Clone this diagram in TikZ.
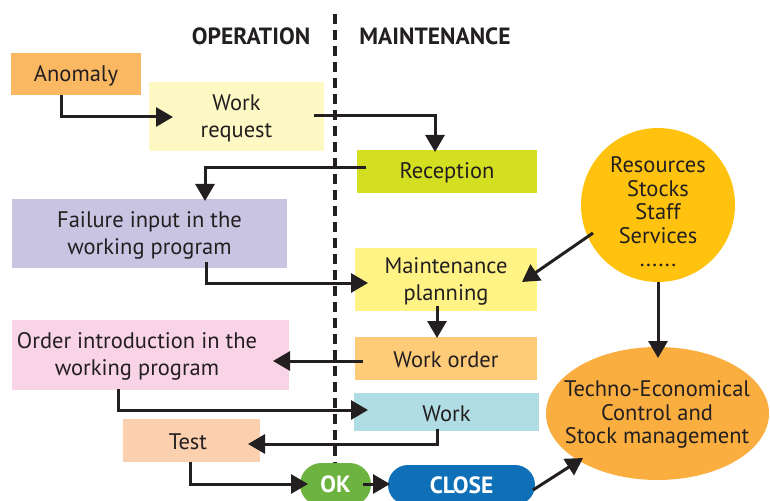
\documentclass[tikz,border=0pt]{standalone}
\usepackage{fontspec}
\setmainfont{PT Sans}
\usetikzlibrary{arrows.meta,shapes.geometric,shapes.misc}
\definecolor{cAnom}{HTML}{FBB862}
\definecolor{cReq}{HTML}{FEF9C4}
\definecolor{cRec}{HTML}{D5DF22}
\definecolor{cFail}{HTML}{C9C4E2}
\definecolor{cPlan}{HTML}{FFF385}
\definecolor{cRes}{HTML}{FFC20E}
\definecolor{cWO}{HTML}{FECB78}
\definecolor{cOrd}{HTML}{F9D3E6}
\definecolor{cWork}{HTML}{B0DDE3}
\definecolor{cTest}{HTML}{FAD0AF}
\definecolor{cOK}{HTML}{6CB33F}
\definecolor{cClose}{HTML}{0F6FB7}
\definecolor{cTech}{HTML}{FAAE40}
\definecolor{ink}{HTML}{231F20}
\tikzset{
  box/.style={rectangle, draw=none, inner sep=0pt, align=center, text=ink,
    font=\fontsize{22.5bp}{27bp}\selectfont},
  pill/.style={rounded rectangle, draw=none, inner sep=0pt, text=white,
    font=\fontsize{23.5bp}{27bp}\selectfont\bfseries},
  head/.style={font=\fontsize{23.5bp}{27bp}\selectfont\bfseries, text=ink, inner sep=0pt},
  conn/.style={line width=3bp, draw=ink, -{Triangle[length=17bp,width=19bp]}},
}
\begin{document}
\begin{tikzpicture}[x=1bp,y=-1bp]
\useasboundingbox (0,0) rectangle (770,501);
\clip (0,0) rectangle (770,501);
% divider
\draw[ink, line width=4bp, dash pattern=on 10bp off 6bp] (335,14) -- (335,470);
\node[head] (hop) at (251,36) {OPERATION};
\node[head] (hmt) at (435,36) {MAINTENANCE};
% boxes
\node[box, fill=cAnom, minimum width=130bp, minimum height=42bp] (anom) at (76,74) {};
\node[box] (anomtxt) at (76,75.5) {Anomaly};
\node[box, fill=cReq, minimum width=175bp, minimum height=69bp] (req) at (236.5,116.5) {};
\node[box] (reqtxt) at (236.5,118) {Work\\request};
\node[box, fill=cRec, minimum width=180bp, minimum height=43bp] (rec) at (447,171.5) {};
\node[box] (rectxt) at (447,173) {Reception};
\node[box, fill=cFail, minimum width=275bp, minimum height=69bp] (fail) at (149.5,233.5) {};
\node[box] (failtxt) at (149.5,235) {Failure input in the\\working program};
\node[box, fill=cPlan, minimum width=182bp, minimum height=62bp] (plan) at (446,279.5) {};
\node[box] (plantxt) at (446,281) {Maintenance\\planning};
\node[box, circle, fill=cRes, minimum size=154bp] (res) at (658,205) {};
\node[box, font=\fontsize{22.5bp}{23.5bp}\selectfont] (restxt) at (658,212) {Resources\\Stocks\\Staff\\Services\\......};
\node[box, fill=cWO, minimum width=182bp, minimum height=43bp] (wo) at (446,358.5) {};
\node[box] (wotxt) at (446,360) {Work order};
\node[box, fill=cOrd, minimum width=277bp, minimum height=70bp] (ord) at (150.5,354.5) {};
\node[box] (ordtxt) at (137,356) {Order introduction in the\\working program};
\node[box, fill=cWork, minimum width=185bp, minimum height=38bp] (work) at (446.5,412) {};
\node[box] (worktxt) at (446.5,413.5) {Work};
\node[box, fill=cTest, minimum width=137bp, minimum height=43bp] (test) at (191.5,440.5) {};
\node[box] (testtxt) at (188,442) {Test};
\node[box, ellipse, fill=cTech, minimum width=223bp, minimum height=133bp] (tech) at (657.5,413.5) {};
\node[box, font=\fontsize{22.5bp}{23.5bp}\selectfont] (techtxt) at (657,414.5) {Techno-Economical\\Control and\\Stock management};
\node[pill, fill=cOK, minimum width=71bp, minimum height=43bp] (ok) at (335.5,484.5) {OK};
\node[pill, fill=cClose, minimum width=147bp, minimum height=40bp] (close) at (461.5,485) {CLOSE};
% connectors
\coordinate (a1) at (61,95);
\coordinate (a1t) at (173,117);
\draw[conn] (a1) |- (a1t);
\coordinate (a2) at (314,116);
\coordinate (a2t) at (435,152);
\draw[conn] (a2) -| (a2t);
\coordinate (a3) at (366,168);
\coordinate (a3t) at (205,201);
\draw[conn] (a3) -| (a3t);
\coordinate (a4) at (206,262);
\coordinate (a4t) at (368,283);
\draw[conn] (a4) |- (a4t);
\coordinate (a5) at (593,233);
\coordinate (a5t) at (522,282);
\draw[conn] (a5) -- (a5t);
\coordinate (a6) at (437,306);
\coordinate (a6t) at (437,338);
\draw[conn] (a6) -- (a6t);
\coordinate (a7) at (658,282);
\coordinate (a7t) at (658,358);
\draw[conn] (a7) -- (a7t);
\coordinate (a8) at (363,361);
\coordinate (a8t) at (273,361);
\draw[conn] (a8) -- (a8t);
\coordinate (a9) at (118,389);
\coordinate (a9t) at (368,410);
\draw[conn] (a9) |- (a9t);
\coordinate (a10) at (437,429);
\coordinate (a10t) at (248,444);
\draw[conn] (a10) |- (a10t);
\coordinate (a11) at (190,462);
\coordinate (a11t) at (308,484);
\draw[conn] (a11) |- (a11t);
\coordinate (a12) at (363,484);
\coordinate (a12t) at (390,484);
\draw[conn] (a12) -- (a12t);
\coordinate (a13) at (533,490);
\coordinate (a13t) at (583,458);
\draw[conn] (a13) -- (a13t);
\end{tikzpicture}
\end{document}
